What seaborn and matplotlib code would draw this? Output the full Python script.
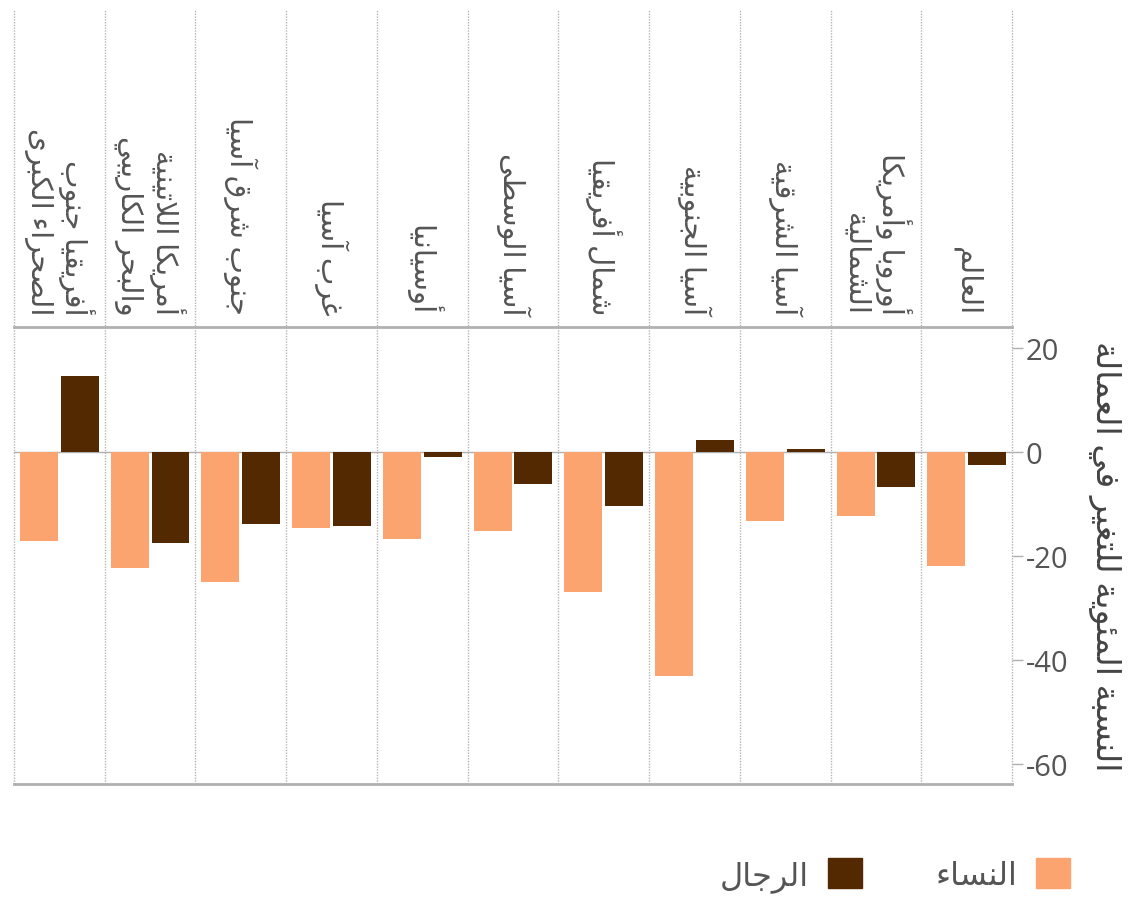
import pandas as pd
import matplotlib.pyplot as plt
import seaborn as sns
from matplotlib.patches import Patch

# data, categories listed from right to left as in the chart
regions = ['العالم', 'أوروبا وأمريكا\nالشمالية', 'آسيا الشرقية', 'آسيا الجنوبية',
           'شمال أفريقيا', 'آسيا الوسطى', 'أوسيانيا', 'غرب آسيا', 'جنوب شرق آسيا',
           'أمريكا اللاتينية\nوالبحر الكاريبي', 'أفريقيا جنوب\nالصحراء الكبرى']
women = [-21.8, -12.3, -13.2, -43.1, -26.9, -15.1, -16.6, -14.6, -25.0, -22.2, -17.0]
men = [-2.4, -6.6, 0.6, 2.4, -10.4, -6.0, -0.8, -14.2, -13.7, -17.5, 14.6]
series = ['النساء', 'الرجال']
ylabel = 'النسبة المئوية للتغير في العمالة'
yticks = [20, 0, -20, -40, -60]

# minimal arabic shaping: matplotlib does neither joining nor bidi
FORMS = {
    'ء': (0xFE80, 1), 'آ': (0xFE81, 2), 'أ': (0xFE83, 2), 'ؤ': (0xFE85, 2),
    'إ': (0xFE87, 2), 'ئ': (0xFE89, 4), 'ا': (0xFE8D, 2), 'ب': (0xFE8F, 4),
    'ة': (0xFE93, 2), 'ت': (0xFE95, 4), 'ث': (0xFE99, 4), 'ج': (0xFE9D, 4),
    'ح': (0xFEA1, 4), 'خ': (0xFEA5, 4), 'د': (0xFEA9, 2), 'ذ': (0xFEAB, 2),
    'ر': (0xFEAD, 2), 'ز': (0xFEAF, 2), 'س': (0xFEB1, 4), 'ش': (0xFEB5, 4),
    'ص': (0xFEB9, 4), 'ض': (0xFEBD, 4), 'ط': (0xFEC1, 4), 'ظ': (0xFEC5, 4),
    'ع': (0xFEC9, 4), 'غ': (0xFECD, 4), 'ف': (0xFED1, 4), 'ق': (0xFED5, 4),
    'ك': (0xFED9, 4), 'ل': (0xFEDD, 4), 'م': (0xFEE1, 4), 'ن': (0xFEE5, 4),
    'ه': (0xFEE9, 4), 'و': (0xFEED, 2), 'ى': (0xFEEF, 2), 'ي': (0xFEF1, 4),
}
LAM_ALEF = {'آ': 0xFEF5, 'أ': 0xFEF7, 'إ': 0xFEF9, 'ا': 0xFEFB}


def shape_line(s):
    out = []
    i = 0
    n = len(s)
    while i < n:
        c = s[i]
        prev = s[i - 1] if i > 0 else ''
        joins_prev = prev in FORMS and FORMS[prev][1] == 4 and c in FORMS and FORMS[c][1] >= 2
        if c == 'ل' and i + 1 < n and s[i + 1] in LAM_ALEF:
            out.append(chr(LAM_ALEF[s[i + 1]] + (1 if joins_prev else 0)))
            i += 2
            continue
        if c not in FORMS:
            out.append(c)
            i += 1
            continue
        base, nf = FORMS[c]
        nxt = s[i + 1] if i + 1 < n else ''
        joins_next = nf == 4 and nxt in FORMS and FORMS[nxt][1] >= 2
        if joins_prev and joins_next:
            out.append(chr(base + 3))
        elif joins_next:
            out.append(chr(base + 2))
        elif joins_prev:
            out.append(chr(base + 1))
        else:
            out.append(chr(base))
        i += 1
    return ''.join(out)[::-1]


def ar(s):
    return '\n'.join(shape_line(line) for line in s.split('\n'))


df = pd.DataFrame({
    'region': regions * 2,
    'value': women + men,
    'sex': [ar(series[0])] * len(regions) + [ar(series[1])] * len(regions),
})

sns.set_style('white')
plt.rcParams['font.family'] = ['Open Sans', 'DejaVu Sans']

fig = plt.figure(figsize=(11.37, 9.04), dpi=100)
ax = fig.add_axes([0.0123, 0.1316, 0.8778, 0.5055])

sns.barplot(data=df, x='region', y='value', hue='sex', order=regions[::-1],
            hue_order=[ar(s) for s in series], palette=['#FCA46F', '#522900'],
            saturation=1, width=0.9, gap=0.07, linewidth=0, ax=ax)
ax.get_legend().remove()

ax.set_xlim(-0.5, len(regions) - 0.5)
ax.set_ylim(-63.8, 24.1)
ax.axhline(0, color='#b0b0b0', lw=1, zorder=0)

# category separators run up through the label area
ax.vlines([i - 0.5 for i in range(len(regions) + 1)], 0, 1.696,
          transform=ax.get_xaxis_transform(), colors='#b5b5b5',
          linestyles=(0, (1, 1)), lw=1, clip_on=False, zorder=0)

for sp in ['left', 'right']:
    ax.spines[sp].set_visible(False)
for sp in ['top', 'bottom']:
    ax.spines[sp].set_color('#b0b0b0')
    ax.spines[sp].set_linewidth(2)

ax.set_xticks([])
ax.set_xlabel('')
for i, name in enumerate(regions[::-1]):
    ax.text(i, 1.028, ar(name), transform=ax.get_xaxis_transform(), rotation=-90,
            ha='center', va='bottom', multialignment='right', fontsize=21,
            color='#555555', linespacing=1.25)

ax.yaxis.tick_right()
ax.set_yticks(yticks)
ax.set_yticklabels([str(t) for t in yticks])
ax.tick_params(axis='y', length=8, width=1, color='#b0b0b0', labelsize=21,
               labelcolor='#555555', pad=2)
ax.yaxis.set_label_position('right')
ax.set_ylabel(ar(ylabel), rotation=-90, fontsize=24, color='#444444', labelpad=38)

handles = [Patch(color='#522900'), Patch(color='#FCA46F')]
fig.legend(handles, [ar(series[1]), ar(series[0])], loc='center',
           bbox_to_anchor=(0.787, 0.031), ncol=2, frameon=False, markerfirst=False,
           fontsize=23, handlelength=1.05, handleheight=1.05, columnspacing=2.3,
           handletextpad=0.6, labelcolor='#555555')

fig.savefig('out.png', dpi=100)
